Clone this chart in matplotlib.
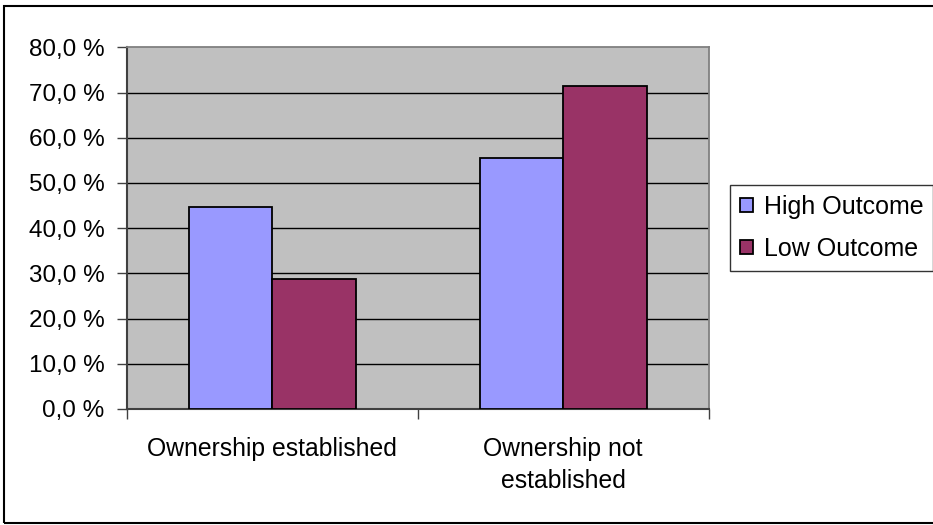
import matplotlib
matplotlib.use('Agg')
import matplotlib.pyplot as plt
from matplotlib.patches import Rectangle
from matplotlib.ticker import FuncFormatter
import numpy as np

categories = ['Ownership established', 'Ownership not\nestablished']
series_names = ['High Outcome', 'Low Outcome']
high_outcome = [44.6, 55.6]
low_outcome = [28.7, 71.5]
y_ticks = [0, 10, 20, 30, 40, 50, 60, 70, 80]

plt.rcParams['font.family'] = ['Liberation Sans', 'DejaVu Sans']

fig = plt.figure(figsize=(9.33, 5.25), dpi=100)
ax = fig.add_axes([0.1358, 0.2210, 0.6238, 0.6887])
ax.set_facecolor('#C0C0C0')

centers = np.arange(len(categories)) + 0.5
bar_w = 0.287
ax.bar(centers - bar_w / 2, high_outcome, bar_w, color='#9999FF',
       edgecolor='black', linewidth=1.3, label=series_names[0], zorder=3)
ax.bar(centers + bar_w / 2, low_outcome, bar_w, color='#993366',
       edgecolor='black', linewidth=1.3, label=series_names[1], zorder=3)

ax.set_xlim(0, len(categories))
ax.set_ylim(0, 80)
ax.set_yticks(y_ticks)
ax.yaxis.set_major_formatter(FuncFormatter(lambda v, p: f'{v:.1f} %'.replace('.', ',')))
for y in y_ticks[1:-1]:
    ax.axhline(y, color='black', linewidth=1, zorder=1)

# category boundaries carry the ticks, names sit in between
ax.set_xticks(np.arange(len(categories) + 1))
ax.set_xticklabels([])
ax.set_xticks(centers, minor=True)
ax.set_xticklabels(categories, minor=True, fontsize=17.8, linespacing=1.45, va='top')
ax.tick_params(axis='x', which='major', direction='out', length=7, width=1, color='#404040')
ax.tick_params(axis='x', which='minor', length=0, pad=20)
ax.tick_params(axis='y', direction='out', length=7, width=1, color='#404040',
               labelsize=17.5, pad=9)

for side in ['top', 'right']:
    ax.spines[side].set_color('#808080')
    ax.spines[side].set_linewidth(1.3)
ax.spines['left'].set_color('#404040')
ax.spines['left'].set_linewidth(1.5)
ax.spines['bottom'].set_color('#404040')
ax.spines['bottom'].set_linewidth(1.5)

leg = fig.legend(loc='upper left', bbox_to_anchor=(730 / 933, 1 - 185 / 525),
                 fontsize=18, frameon=True, fancybox=False, edgecolor='black',
                 handlelength=0.5, handleheight=0.5, handletextpad=0.45,
                 borderpad=0.4, labelspacing=0.7, borderaxespad=0)
leg.get_frame().set_linewidth(1)

# chart border
fig.patches.append(Rectangle((4 / 933, 2 / 525), 1.0, 1 - 8 / 525,
                             transform=fig.transFigure, fill=False,
                             edgecolor='black', linewidth=1.5))

fig.savefig('out.png', dpi=100, facecolor='white')
